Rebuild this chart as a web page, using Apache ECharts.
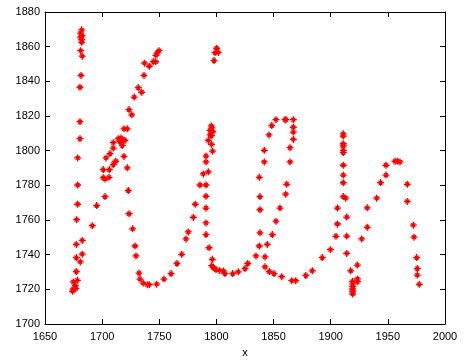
<!DOCTYPE html>
<html>
<head>
<meta charset="utf-8">
<script src="https://cdn.jsdelivr.net/npm/echarts@6/dist/echarts.min.js"></script>
<style>
html,body{margin:0;padding:0;background:#fff;}
#chart{width:467px;height:363px;}
</style>
</head>
<body>
<div id="chart"></div>
<script>
var xValues = [
1682.1,1681.2,1682.4,1681.2,1682.1,1682.1,1681.2,1682.6,1681.5,1680.6,1680.6,1680.6,1678.6,1678.6,1678.6,1677.7,1677.4,1682.6,1677.4,1682.6,1680.9,1677.4,1678.3,1674.8,1676.5,1674.8,1677.1,1674.2,
1691.4,1695.2,1702.5,1701.0,1702.5,1706.0,1701.0,1706.3,1709.8,1711.9,1703.4,1706.9,1709.8,1709.8,1714.1,1716.5,1718.5,1720.0,1715.6,1717.6,1719.1,1722.0,1719.1,1722.0,1722.9,1723.5,1725.9,1728.1,1731.6,1734.6,1736.6,1737.1,1741.3,1744.8,1746.9,1747.1,1748.3,1749.8,
1723.5,1726.7,1728.8,1729.6,1732.3,1733.1,1736.0,1739.5,1741.3,1747.7,1754.1,1760.3,1765.5,1769.6,1773.4,1775.4,1779.8,1781.5,1785.6,1788.5,1790.9,1790.9,1790.9,1792.9,1790.9,1790.9,1790.9,1790.9,1793.5,1796.4,1795.9,1797.3,1799.6,1802.5,1806.0,1807.5,1814.2,1819.1,1825.0,1827.4,1834.6,
1795.5,1796.1,1794.4,1796.7,1794.4,1795.7,1792.9,1795.7,1796.6,
1800.2,1798.8,1801.6,1797.9,
1837.5,1838.1,1838.1,1838.1,1837.5,1841.9,1841.9,1846.0,1848.4,1852.1,1860.0,1860.9,1867.3,1867.3,1867.3,1867.3,1864.4,1864.4,1861.5,1860.6,1855.6,1852.1,1848.9,1844.5,1842.5,1842.5,1846.3,1850.4,1857.1,1865.9,1869.4,1878.2,1883.9,1892.6,1899.8,1904.6,1905.9,1905.9,
1911.0,1913.1,1911.0,1911.0,1911.0,1911.0,1911.0,1911.0,1911.0,1911.0,1911.0,1914.0,1914.0,1914.0,1917.5,1919.2,1919.2,1919.2,1919.2,1919.2,1919.2,1923.4,1923.4,1923.3,1927.1,1932.0,1932.0,1940.2,1943.6,1948.4,1948.4,1956.3,1958.3,1960.6,1967.0,1967.0,1972.3,1972.9,1975.2,1975.8,1975.8,1977.5
];
var yValues = [
1869.7,1867.8,1866.3,1865.5,1864.0,1862.5,1857.7,1854.5,1843.4,1836.6,1816.7,1806.9,1795.8,1780.2,1769.1,1760.2,1745.9,1748.2,1738.3,1740.3,1735.8,1730.3,1725.2,1724.3,1722.1,1720.2,1720.6,1718.9,
1756.7,1768.3,1773.5,1784.4,1783.6,1784.6,1789.1,1789.1,1792.0,1793.9,1795.8,1798.3,1801.5,1804.6,1806.9,1807.3,1805.9,1805.9,1805.3,1803.0,1796.7,1790.1,1812.6,1812.6,1777.0,1823.7,1820.7,1830.9,1836.4,1833.7,1843.4,1850.5,1848.7,1851.4,1851.3,1855.0,1856.4,1857.7,
1763.6,1754.9,1745.0,1739.3,1729.3,1725.9,1723.6,1722.7,1722.7,1723.0,1725.9,1729.1,1734.9,1740.2,1749.1,1753.1,1761.5,1769.1,1780.2,1786.6,1780.2,1793.5,1796.9,1787.8,1773.7,1766.9,1758.3,1751.6,1744.0,1737.3,1733.7,1732.6,1731.4,1730.9,1730.6,1729.1,1729.1,1730.1,1732.0,1734.9,1739.3,
1814.3,1813.1,1811.7,1810.9,1809.1,1808.7,1805.9,1803.6,1799.7,
1859.1,1856.6,1856.7,1852.0,
1745.0,1752.6,1765.9,1773.5,1784.6,1793.5,1800.2,1809.1,1814.5,1817.9,1817.9,1817.9,1817.9,1813.5,1810.7,1806.5,1801.7,1793.5,1780.6,1774.9,1766.9,1759.3,1751.6,1745.9,1738.7,1733.0,1730.3,1729.1,1727.3,1725.0,1725.0,1728.0,1730.7,1738.3,1742.9,1750.6,1757.7,1766.9,
1773.5,1772.6,1781.5,1785.9,1791.6,1798.9,1800.2,1802.7,1804.0,1808.4,1809.7,1761.7,1750.7,1740.7,1730.7,1724.6,1723.1,1721.7,1720.2,1718.9,1717.3,1726.0,1724.4,1734.0,1749.1,1755.8,1767.0,1772.6,1781.6,1785.9,1791.6,1793.9,1793.9,1793.5,1780.6,1770.7,1757.0,1750.1,1738.3,1732.0,1728.2,1722.9
];
var xTicks = {min: 1650, max: 2000, interval: 50};
var yTicks = {min: 1700, max: 1880, interval: 20};

var points = xValues.map(function (x, i) { return [x, yValues[i]]; });
var star = 'path://M0,-5L0,5M-5,0L5,0M-2.8,-2.8L2.8,2.8M-2.8,2.8L2.8,-2.8';
var font = 'Liberation Sans, Arial, Helvetica, sans-serif';
var plain = function (v) { return String(v); };
var axisBase = {
  axisLine: {show: true, onZero: false, lineStyle: {color: '#000', width: 1}},
  axisTick: {show: true, inside: true, length: 5, lineStyle: {color: '#000'}},
  splitLine: {show: false}
};
function ax(extra) { return Object.assign({}, JSON.parse(JSON.stringify(axisBase)), extra); }

var chart = echarts.init(document.getElementById('chart'), null, {renderer: 'canvas'});
chart.setOption({
  animation: false,
  backgroundColor: '#fff',
  grid: {left: 45, top: 12, right: 22, bottom: 37, containLabel: false},
  xAxis: [
    ax({type: 'value', position: 'bottom', min: xTicks.min, max: xTicks.max, interval: xTicks.interval,
      name: 'x', nameLocation: 'middle', nameGap: 23,
      nameTextStyle: {color: '#000', fontSize: 11, fontFamily: font},
      axisLabel: {color: '#000', fontSize: 11, fontFamily: font, margin: 7, formatter: plain}}),
    ax({type: 'value', position: 'top', min: xTicks.min, max: xTicks.max, interval: xTicks.interval,
      axisLabel: {show: false}})
  ],
  yAxis: [
    ax({type: 'value', position: 'left', min: yTicks.min, max: yTicks.max, interval: yTicks.interval,
      axisLabel: {color: '#000', fontSize: 11, fontFamily: font, margin: 5, formatter: plain}}),
    ax({type: 'value', position: 'right', min: yTicks.min, max: yTicks.max, interval: yTicks.interval,
      axisLabel: {show: false}})
  ],
  series: [{
    type: 'scatter',
    data: points,
    symbol: star,
    symbolSize: 7,
    itemStyle: {color: 'rgba(255,0,0,0)', borderColor: '#ff0000', borderWidth: 1.3, opacity: 1}
  }]
});
</script>
</body>
</html>
